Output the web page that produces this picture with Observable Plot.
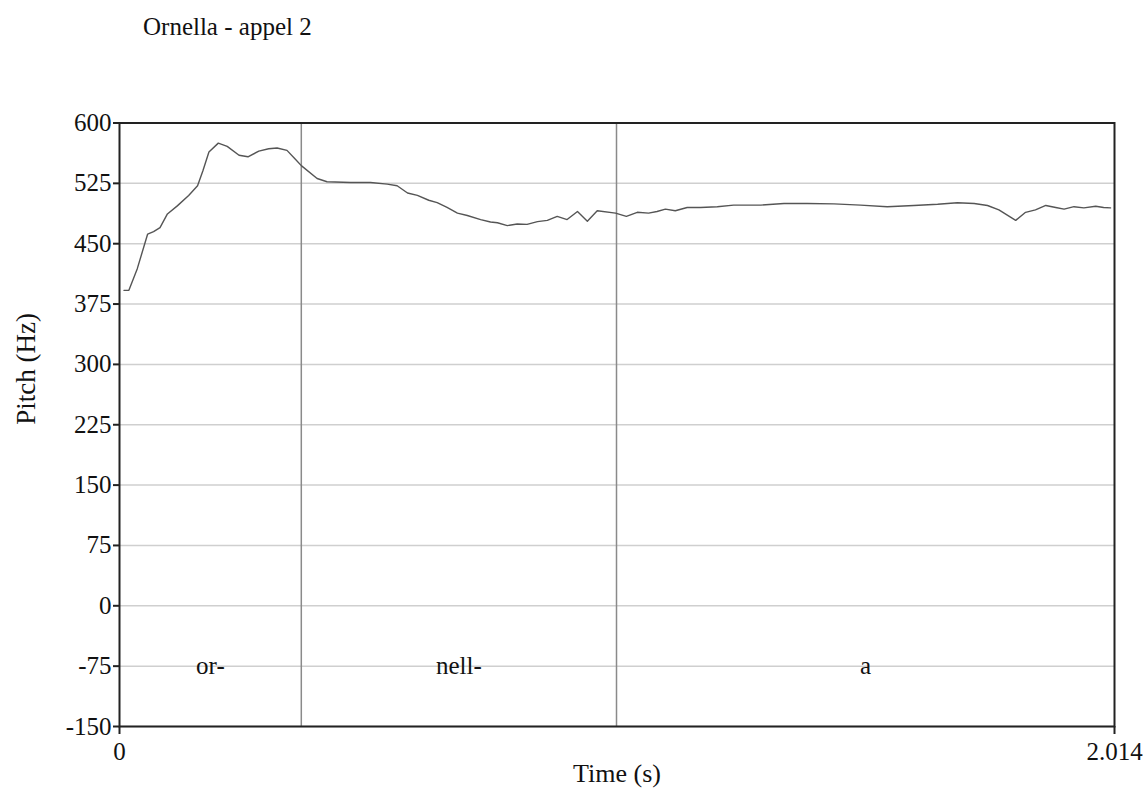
<!DOCTYPE html>
<html>
<head>
<meta charset="utf-8">
<script src="https://cdn.jsdelivr.net/npm/d3@7"></script>
<script src="https://cdn.jsdelivr.net/npm/@observablehq/plot@0.6"></script>
<style>
  html, body { margin: 0; padding: 0; background: #fff; }
  #title { height: 47px; padding-top: 13px; padding-left: 143px; font-family: "Liberation Serif", "Times New Roman", serif; font-size: 25px; line-height: 28px; color: #111; box-sizing: content-box; }
  #chart svg { display: block; }
</style>
</head>
<body>
<div id="title">Ornella - appel 2</div>
<div id="chart"></div>
<script>
// Pitch contour (time in s, pitch in Hz)
const times = [0.009, 0.019, 0.036, 0.057, 0.069, 0.082, 0.097, 0.117, 0.140, 0.158, 0.169, 0.181, 0.200, 0.218, 0.242, 0.260, 0.282, 0.302, 0.319, 0.339, 0.356, 0.368, 0.400, 0.420, 0.468, 0.508, 0.542, 0.562, 0.583, 0.603, 0.626, 0.643, 0.663, 0.684, 0.704, 0.731, 0.751, 0.765, 0.785, 0.805, 0.825, 0.846, 0.866, 0.886, 0.906, 0.927, 0.947, 0.967, 1.004, 1.026, 1.048, 1.071, 1.088, 1.105, 1.125, 1.149, 1.176, 1.210, 1.243, 1.298, 1.345, 1.392, 1.446, 1.500, 1.554, 1.608, 1.656, 1.696, 1.730, 1.757, 1.780, 1.814, 1.834, 1.854, 1.875, 1.895, 1.912, 1.932, 1.952, 1.976, 1.992, 2.006];
const pitch = [392, 392, 419, 462, 465, 470, 487, 497, 510, 522, 541, 564, 575, 571, 560, 558, 565, 568, 569, 566, 555, 547, 531, 527, 526, 526, 524, 522, 513, 510, 504, 501, 495, 488, 485, 480, 477, 476, 472.5, 474.5, 474, 477.5, 479, 484, 480, 490, 478, 491, 488, 484, 489, 488, 490, 493, 491, 495, 495, 496, 498, 498, 500, 500, 499.5, 498, 496, 497.5, 499, 500.8, 500, 497.5, 492, 479, 489, 492, 497.5, 495, 493, 496, 494.5, 496.5, 495, 494.5];

// Syllable tier
const segLabels = ["or-", "nell-", "a"];
const segStarts = [0, 0.368, 1.006];
const segEnds = [0.368, 1.006, 2.014];
const boundaries = [0.368, 1.006];

// Axes
const yTicks = [-150, -75, 0, 75, 150, 225, 300, 375, 450, 525, 600];
const yTickLabels = ["-150", "-75", "0", "75", "150", "225", "300", "375", "450", "525", "600"];
const xTicks = [0, 2.014];
const xTickLabels = ["0", "2.014"];
const yLabel = "Pitch (Hz)";
const xLabel = "Time (s)";

const contour = times.map((t, i) => ({t, f: pitch[i]}));
const segs = segLabels.map((l, i) => ({label: l, mid: (segStarts[i] + segEnds[i]) / 2, y: -75}));

const chart = Plot.plot({
  width: 1146,
  height: 732,
  marginLeft: 119,
  marginRight: 32,
  marginTop: 62.5,
  marginBottom: 66,
  style: {fontFamily: "'Liberation Serif', 'Times New Roman', serif", color: "#111", background: "#fff"},
  x: {domain: [0, 2.014]},
  y: {domain: [-150, 600]},
  marks: [
    Plot.gridY(yTicks, {stroke: "#cfcfcf", strokeOpacity: 1, strokeWidth: 1.5}),
    Plot.ruleX(boundaries, {stroke: "#8a8a8a", strokeWidth: 1.5}),
    Plot.lineY(contour, {x: "t", y: "f", stroke: "#555", strokeWidth: 1.4}),
    Plot.text(segs, {x: "mid", y: "y", text: "label", fontSize: 25, fill: "#111"}),
    Plot.frame({stroke: "#222", strokeWidth: 2}),
    Plot.axisY({ticks: yTicks, tickFormat: (d, i) => yTickLabels[yTicks.indexOf(d)], tickSize: 6, tickPadding: 2, fontSize: 25, label: null, stroke: "#222", strokeWidth: 2}),
    Plot.axisX({ticks: xTicks, tickFormat: (d, i) => xTickLabels[xTicks.indexOf(d)], tickSize: 8, tickPadding: 8, fontSize: 25, label: null, stroke: "#222", strokeWidth: 2}),
    Plot.text([yLabel], {frameAnchor: "left", dx: -93, rotate: -90, fontSize: 27, fill: "#111"}),
    Plot.text([xLabel], {frameAnchor: "bottom", dy: 55, fontSize: 26, fill: "#111"})
  ]
});
document.getElementById("chart").appendChild(chart);
</script>
</body>
</html>
